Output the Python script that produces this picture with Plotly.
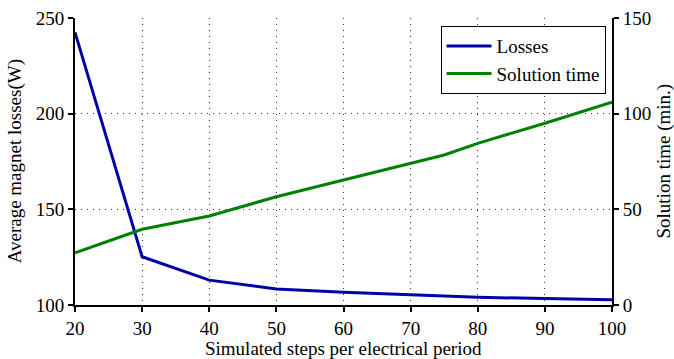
import plotly.graph_objects as go

# Simulated steps per electrical period
steps = [20, 30, 40, 50, 60, 75, 80, 90, 100]
# Average magnet losses (W)
losses = [242.5, 125.2, 113.0, 108.4, 106.7, 104.4, 104.0, 103.4, 102.8]
# Solution time (min.)
solution_time = [27.2, 39.6, 46.5, 56.6, 65.3, 78.4, 84.5, 95.0, 106.0]

x_ticks = [20, 30, 40, 50, 60, 70, 80, 90, 100]
left_ticks = [100, 150, 200, 250]
right_ticks = [0, 50, 100, 150]

x_title = "Simulated steps per electrical period"
left_title = "Average magnet losses(W)"
right_title = "Solution time (min.)"

FONT = "'Liberation Serif', 'Times New Roman', Times, serif"

fig = go.Figure()
fig.add_trace(go.Scatter(x=steps, y=losses, name="Losses", mode="lines",
                         line=dict(color="#0000A8", width=3), yaxis="y"))
fig.add_trace(go.Scatter(x=steps, y=solution_time, name="Solution time", mode="lines",
                         line=dict(color="#008000", width=3), yaxis="y2"))

axis_common = dict(ticks="outside", ticklen=5, tickwidth=2, tickcolor="black",
                   showline=True, linecolor="black", linewidth=2,
                   zeroline=False, automargin=False,
                   tickfont=dict(family=FONT, size=19, color="black"))

grid_style = dict(showgrid=True, gridcolor="#333333", griddash="1px,5px", gridwidth=1)

title_font = dict(family=FONT, size=19, color="black")

fig.update_layout(
    width=674, height=359,
    margin=dict(l=75, r=62, t=18, b=54),
    paper_bgcolor="white", plot_bgcolor="white",
    font=dict(family=FONT, size=19, color="black"),
    showlegend=True,
    legend=dict(x=0.988, y=0.972, xanchor="right", yanchor="top",
                bgcolor="white", bordercolor="black", borderwidth=1,
                font=dict(family=FONT, size=19), tracegroupgap=0,
                itemwidth=45),
    xaxis=dict(range=[20, 100], tickvals=x_ticks, **grid_style, **axis_common),
    yaxis=dict(range=[100, 250], tickvals=left_ticks, **grid_style, **axis_common),
    yaxis2=dict(range=[0, 150], tickvals=right_ticks, overlaying="y", side="right",
                showgrid=False, **axis_common),
    annotations=[
        dict(text=x_title, xref="paper", yref="paper", x=0.5, y=-0.15,
             xanchor="center", yanchor="middle", showarrow=False, font=title_font),
        dict(text=left_title, xref="paper", yref="paper", x=-0.112, y=0.5,
             xanchor="center", yanchor="middle", textangle=-90, showarrow=False,
             font=title_font),
        dict(text=right_title, xref="paper", yref="paper", x=1.095, y=0.5,
             xanchor="center", yanchor="middle", textangle=-90, showarrow=False,
             font=title_font),
    ],
)

fig.write_html("out.html")
